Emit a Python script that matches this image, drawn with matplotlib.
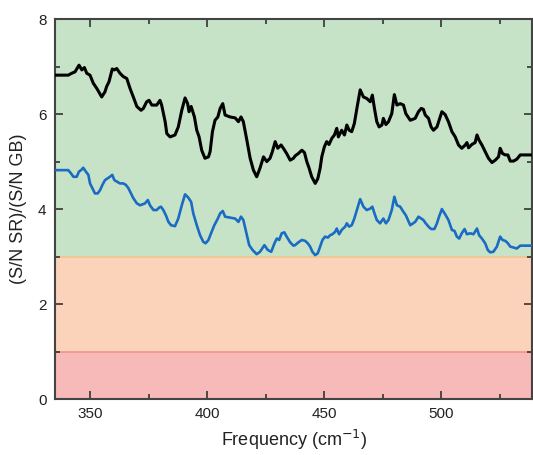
import matplotlib
matplotlib.use("Agg")
import matplotlib.pyplot as plt
from matplotlib.ticker import MultipleLocator

plt.rcParams['font.family'] = ['Liberation Sans', 'DejaVu Sans']

# Black curve (frequency, ratio)
black_x = [335.0, 340.7, 342.2, 343.6, 345.3, 346.5, 347.6, 348.6, 350.0, 351.4, 352.9, 355.0,
           356.4, 357.1, 358.1, 359.5, 360.4, 361.4, 362.8, 364.2, 365.7, 367.1, 368.5, 370.0,
           371.8, 372.8, 374.2, 375.2, 376.4, 378.5, 379.9, 380.6, 382.1, 382.8, 384.2, 386.3,
           387.7, 389.2, 390.6, 391.7, 392.3, 393.2, 394.6, 395.6, 396.6, 397.7, 399.1, 400.6,
           401.3, 402.3, 403.4, 404.6, 405.6, 406.7, 407.7, 409.8, 412.0, 413.4, 414.5, 415.5,
           417.0, 418.4, 419.8, 421.2, 422.6, 424.1, 425.5, 426.9, 427.9, 429.1, 430.2, 431.6,
           432.6, 434.0, 435.5, 436.9, 437.6, 439.0, 440.5, 441.6, 442.6, 443.6, 444.7, 446.2,
           447.3, 448.3, 449.0, 450.1, 451.1, 452.1, 453.3, 454.4, 455.4, 456.1, 457.5, 458.7,
           459.7, 460.7, 461.8, 462.9, 464.0, 465.4, 466.8, 468.2, 469.7, 470.6, 471.5, 472.5,
           473.5, 474.7, 475.3, 476.4, 477.5, 478.9, 480.0, 481.1, 482.5, 483.9, 484.9, 486.8,
           488.9, 490.3, 491.5, 492.4, 493.2, 494.6, 495.7, 496.7, 498.2, 499.1, 500.3, 501.7,
           503.1, 504.6, 506.0, 507.4, 508.8, 510.3, 511.0, 511.7, 513.1, 514.5, 515.3, 516.2,
           517.4, 518.8, 520.2, 521.7, 523.1, 524.5, 525.2, 526.2, 527.4, 528.5, 529.5, 530.9,
           532.3, 533.8, 539.3]
black_y = [6.82, 6.82, 6.86, 6.89, 7.03, 6.93, 6.98, 6.86, 6.82, 6.65, 6.54, 6.36,
           6.47, 6.58, 6.68, 6.95, 6.93, 6.96, 6.86, 6.79, 6.75, 6.54, 6.36, 6.16,
           6.08, 6.12, 6.26, 6.29, 6.19, 6.19, 6.29, 6.19, 5.84, 5.59, 5.52, 5.56,
           5.73, 6.08, 6.34, 6.22, 6.05, 6.16, 5.94, 5.66, 5.52, 5.24, 5.07, 5.10,
           5.21, 5.63, 5.87, 5.94, 6.12, 6.22, 5.98, 5.94, 5.92, 5.84, 5.94, 5.84,
           5.45, 5.07, 4.82, 4.68, 4.86, 5.10, 5.00, 5.07, 5.21, 5.42, 5.28, 5.35,
           5.28, 5.17, 5.03, 5.07, 5.12, 5.17, 5.24, 5.19, 5.00, 4.86, 4.68, 4.54,
           4.64, 4.86, 5.10, 5.31, 5.42, 5.36, 5.49, 5.56, 5.70, 5.52, 5.66, 5.56,
           5.77, 5.66, 5.63, 5.80, 6.12, 6.51, 6.36, 6.33, 6.26, 6.40, 6.12, 5.84,
           5.73, 5.77, 5.91, 5.78, 5.84, 6.01, 6.41, 6.19, 6.22, 6.19, 6.01, 5.87,
           5.91, 6.05, 6.12, 6.10, 5.98, 5.91, 5.73, 5.66, 5.73, 5.87, 6.05, 5.99,
           5.84, 5.63, 5.52, 5.35, 5.28, 5.35, 5.40, 5.29, 5.36, 5.40, 5.56, 5.45,
           5.35, 5.21, 5.07, 4.98, 5.03, 5.10, 5.28, 5.17, 5.14, 5.14, 5.01, 5.01,
           5.05, 5.14, 5.14]

# Blue curve (frequency, ratio)
blue_x = [335.0, 340.7, 341.9, 342.9, 344.3, 345.3, 346.2, 347.1, 348.2, 349.3, 350.0, 351.0,
          352.1, 353.3, 354.3, 355.3, 356.4, 357.6, 358.5, 359.5, 360.4, 361.4, 362.8, 364.2,
          365.3, 366.4, 367.5, 368.5, 370.0, 371.4, 372.4, 373.5, 374.7, 375.6, 377.1, 378.5,
          379.5, 380.3, 381.3, 382.4, 383.5, 384.6, 386.3, 387.7, 389.2, 390.6, 392.0, 393.2,
          394.1, 395.6, 397.0, 398.4, 399.4, 400.6, 401.7, 403.1, 404.6, 405.6, 406.7, 407.7,
          409.8, 412.0, 413.4, 414.5, 415.5, 416.5, 418.0, 419.4, 421.2, 422.6, 424.5, 425.9,
          427.4, 428.8, 429.8, 430.8, 431.9, 433.0, 434.0, 435.5, 436.9, 437.6, 439.0, 440.5,
          441.9, 443.0, 444.0, 445.0, 446.2, 447.3, 448.3, 449.3, 450.4, 451.6, 452.6, 453.5,
          454.7, 455.4, 456.4, 457.5, 459.0, 459.7, 460.7, 461.8, 462.9, 464.0, 465.4, 466.8,
          468.2, 469.7, 470.6, 471.5, 472.5, 473.9, 475.3, 476.4, 477.5, 478.9, 480.0, 481.1,
          482.5, 483.9, 484.9, 486.8, 488.9, 490.3, 491.5, 492.4, 493.4, 494.6, 495.7, 497.1,
          498.2, 499.1, 500.3, 501.7, 503.1, 504.6, 505.7, 506.7, 507.7, 508.8, 510.0, 511.0,
          512.4, 513.8, 515.3, 516.2, 517.4, 518.8, 519.9, 520.9, 522.3, 523.8, 525.2, 526.2,
          527.4, 528.5, 529.5, 530.9, 532.3, 533.8, 539.3]
blue_y = [4.82, 4.82, 4.75, 4.68, 4.68, 4.79, 4.82, 4.87, 4.79, 4.72, 4.54, 4.44,
          4.33, 4.33, 4.40, 4.51, 4.61, 4.65, 4.68, 4.72, 4.61, 4.58, 4.54, 4.54,
          4.51, 4.44, 4.33, 4.23, 4.12, 4.08, 4.10, 4.12, 4.19, 4.08, 3.98, 3.98,
          4.03, 4.05, 3.98, 3.87, 3.73, 3.66, 3.64, 3.80, 4.08, 4.31, 4.24, 4.15,
          3.91, 3.66, 3.45, 3.31, 3.28, 3.35, 3.49, 3.66, 3.80, 3.91, 3.96, 3.84,
          3.82, 3.80, 3.73, 3.84, 3.77, 3.56, 3.24, 3.14, 3.05, 3.10, 3.24, 3.14,
          3.10, 3.28, 3.38, 3.35, 3.49, 3.51, 3.42, 3.30, 3.23, 3.24, 3.30, 3.35,
          3.33, 3.28, 3.21, 3.10, 3.03, 3.07, 3.21, 3.35, 3.42, 3.40, 3.45, 3.47,
          3.52, 3.59, 3.47, 3.56, 3.63, 3.70, 3.63, 3.66, 3.80, 3.98, 4.21, 4.05,
          3.98, 4.01, 4.05, 3.91, 3.77, 3.70, 3.80, 3.70, 3.77, 3.98, 4.26, 4.08,
          4.05, 3.94, 3.87, 3.66, 3.73, 3.84, 3.80, 3.77, 3.70, 3.63, 3.58, 3.58,
          3.70, 3.84, 4.00, 3.89, 3.77, 3.56, 3.54, 3.42, 3.38, 3.49, 3.58, 3.47,
          3.49, 3.47, 3.59, 3.45, 3.38, 3.28, 3.14, 3.09, 3.10, 3.21, 3.42, 3.35,
          3.33, 3.28, 3.21, 3.19, 3.17, 3.23, 3.23]

# Background bands (lower, upper)
band_limits = [(0, 1), (1, 3), (3, 8)]
band_colors = ['#f8b9b9', '#fbd3bb', '#c6e3c8']
band_edges = [1, 3]
band_edge_colors = ['#f2938c', '#f2c58a']

fig = plt.figure(figsize=(5.33, 4.55), dpi=100)
ax = fig.add_axes([0.103, 0.123, 0.896, 0.835])

for (lo, hi), c in zip(band_limits, band_colors):
    ax.axhspan(lo, hi, color=c, lw=0, zorder=0)
for yv, c in zip(band_edges, band_edge_colors):
    ax.axhline(yv, color=c, lw=1.2, zorder=1)

ax.plot(black_x, black_y, color='black', lw=2.2, zorder=3)
ax.plot(blue_x, blue_y, color='#1a6bc4', lw=1.9, zorder=3)

ax.set_xlim(335, 539)
ax.set_ylim(0, 8)
ax.xaxis.set_major_locator(MultipleLocator(50))
ax.xaxis.set_minor_locator(MultipleLocator(25))
ax.yaxis.set_major_locator(MultipleLocator(2))
ax.yaxis.set_minor_locator(MultipleLocator(1))
ax.tick_params(which='both', direction='in', top=True, right=True, color='#333333',
               labelsize=11, labelcolor='#222222', width=1.2)
ax.tick_params(which='major', length=6, pad=6)
ax.tick_params(which='minor', length=3.5)
for s in ax.spines.values():
    s.set_color('#444444')
    s.set_linewidth(1.5)

ax.set_xlabel('Frequency (cm$^{-1}$)', fontsize=13, color='#222222', labelpad=5)
ax.set_ylabel('(S/N SR)/(S/N GB)', fontsize=13, color='#222222', labelpad=8)

fig.savefig('out.png', dpi=100)
